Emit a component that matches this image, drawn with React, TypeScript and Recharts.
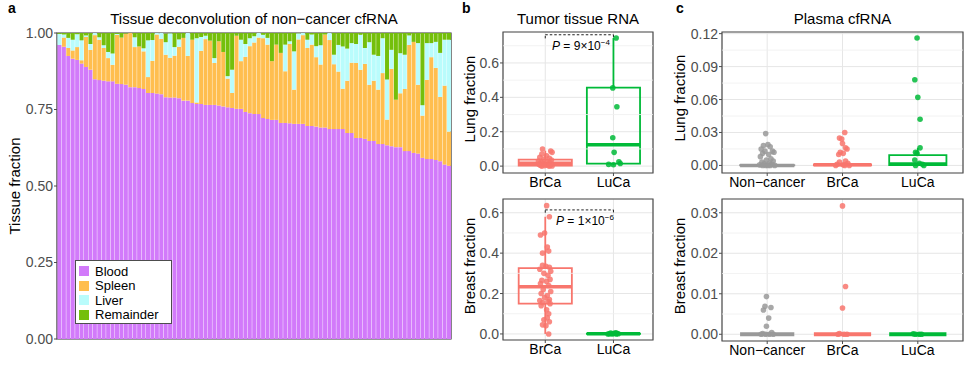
import React from "react";
import {
  BarChart,
  Bar,
  XAxis,
  YAxis,
  ReferenceArea,
  ReferenceLine,
  Legend,
  ScatterChart,
  Scatter,
  CartesianGrid,
} from "recharts";

const FONT = '"Liberation Sans", Arial, sans-serif';

// ---------------- Panel a: tissue deconvolution (89 non-cancer samples) ----------------
const bloodFrac = [
  0.961, 0.955, 0.925, 0.916, 0.912, 0.9, 0.889, 0.88, 0.849, 0.846, 0.844, 0.842, 0.842, 0.834, 0.833,
  0.831, 0.823, 0.823, 0.82, 0.817, 0.804, 0.804, 0.802, 0.8, 0.79, 0.789, 0.789, 0.787, 0.779, 0.779,
  0.771, 0.768, 0.768, 0.765, 0.765, 0.765, 0.763, 0.76, 0.757, 0.755, 0.752, 0.752, 0.742, 0.738, 0.735,
  0.735, 0.722, 0.719, 0.716, 0.716, 0.706, 0.706, 0.705, 0.703, 0.703, 0.703, 0.696, 0.696, 0.694, 0.691,
  0.691, 0.686, 0.686, 0.686, 0.686, 0.673, 0.673, 0.657, 0.657, 0.654, 0.647, 0.647, 0.637, 0.637, 0.633,
  0.63, 0.627, 0.627, 0.614, 0.614, 0.608, 0.606, 0.592, 0.588, 0.588, 0.585, 0.581, 0.57, 0.566,
];
const spleenFrac = [
  0.0, 0.03, 0.026, 0.027, 0.042, 0.011, 0.098, 0.065, 0.144, 0.132, 0.107, 0.076, 0.054, 0.16, 0.152,
  0.167, 0.177, 0.131, 0.136, 0.123, 0.052, 0.105, 0.193, 0.181, 0.139, 0.13, 0.137, 0.168, 0.205, 0.146,
  0.207, 0.005, 0.174, 0.215, 0.21, 0.137, 0.21, 0.178, 0.094, 0.049, 0.239, 0.156, 0.18, 0.219, 0.234,
  0.25, 0.261, 0.243, 0.192, 0.246, 0.229, 0.169, 0.259, 0.112, 0.276, 0.29, 0.255, 0.266, 0.227, 0.206,
  0.304, 0.291, 0.212, 0.188, 0.132, 0.171, 0.23, 0.245, 0.223, 0.245, 0.184, 0.197, 0.178, 0.232, 0.084,
  0.253, 0.155, 0.176, 0.203, 0.347, 0.363, 0.225, 0.138, 0.259, 0.333, 0.301, 0.21, 0.258, 0.112,
];
const liverFrac = [
  0.036, 0.01, 0.033, 0.035, 0.042, 0.065, 0.005, 0.019, 0.007, 0.008, 0.009, 0.02, 0.037, 0.003, 0.0,
  0.0, 0.0, 0.032, 0.0, 0.01, 0.12, 0.068, 0.005, 0.02, 0.041, 0.08, 0.028, 0.024, 0.0, 0.076,
  0.0, 0.21, 0.045, 0.011, 0.0, 0.016, 0.0, 0.0, 0.008, 0.076, 0.0, 0.07, 0.042, 0.026, 0.02,
  0.015, 0.011, 0.022, 0.0, 0.0, 0.0, 0.087, 0.009, 0.125, 0.02, 0.007, 0.027, 0.033, 0.036, 0.063,
  0.0, 0.024, 0.031, 0.087, 0.138, 0.105, 0.064, 0.062, 0.114, 0.052, 0.139, 0.085, 0.11, 0.114, 0.131,
  0.062, 0.0, 0.131, 0.112, 0.031, 0.0, 0.136, 0.034, 0.12, 0.046, 0.085, 0.144, 0.15, 0.3,
];
const remainderFrac = [
  0.003, 0.005, 0.017, 0.023, 0.004, 0.025, 0.009, 0.037, 0.0, 0.015, 0.041, 0.063, 0.068, 0.004, 0.015,
  0.002, 0.0, 0.015, 0.045, 0.05, 0.025, 0.025, 0.0, 0.0, 0.028, 0.003, 0.047, 0.022, 0.017, 0.0,
  0.023, 0.017, 0.014, 0.011, 0.026, 0.083, 0.028, 0.063, 0.143, 0.121, 0.011, 0.024, 0.037, 0.017, 0.012,
  0.0, 0.007, 0.017, 0.094, 0.039, 0.066, 0.039, 0.028, 0.061, 0.003, 0.0, 0.023, 0.007, 0.045, 0.041,
  0.007, 0.0, 0.072, 0.039, 0.045, 0.052, 0.034, 0.037, 0.007, 0.05, 0.031, 0.072, 0.076, 0.017, 0.154,
  0.057, 0.219, 0.066, 0.072, 0.009, 0.031, 0.034, 0.237, 0.034, 0.034, 0.031, 0.066, 0.023, 0.023,
];
const tissueNames = ["Blood", "Spleen", "Liver", "Remainder"];
const tissueKeys = ["blood", "spleen", "liver", "remainder"];
const tissueColors = ["#D27AFA", "#FFBE4F", "#B9FCFC", "#74BF0B"];
const aTicks = [0, 0.25, 0.5, 0.75, 1];

// ---------------- Panel b: tumor tissue RNA ----------------
const bCats = ["BrCa", "LuCa"];
const bLungBrCaVals = [0.1, 0.088, 0.08, 0.07, 0.06, 0.052, 0.045, 0.04, 0.035, 0.03, 0.026, 0.022, 0.018, 0.015, 0.012, 0.01, 0.008, 0.006, 0.004, 0.003, 0.002, 0.001, 0.0, 0.0];
const bLungBrCaJit = [-0.04, 0.08, 0.1, -0.05, 0.02, -0.08, 0.06, -0.02, 0.09, -0.1, 0.03, -0.06, 0.07, -0.03, 0.05, -0.09, 0.01, 0.08, -0.07, 0.04, -0.01, 0.1, -0.05, 0.06];
const bLungLuCaVals = [0.745, 0.455, 0.345, 0.165, 0.08, 0.025, 0.015, 0.01, 0.008];
const bLungLuCaJit = [0.04, -0.01, 0.05, -0.01, 0.01, 0.08, 0.1, -0.07, 0.0];
const bLungBox = { BrCa: [0.0, 0.003, 0.016, 0.038, 0.09], LuCa: [0.005, 0.014, 0.125, 0.457, 0.745] };

const bBreastBrCaVals = [0.635, 0.58, 0.5, 0.49, 0.43, 0.41, 0.4, 0.34, 0.335, 0.33, 0.32, 0.31, 0.3, 0.29, 0.27, 0.265, 0.26, 0.25, 0.24, 0.22, 0.21, 0.2, 0.19, 0.18, 0.17, 0.165, 0.16, 0.155, 0.15, 0.14, 0.12, 0.1, 0.08, 0.07, 0.06, 0.045, 0.04, 0.0];
const bBreastBrCaJit = [0.02, 0.06, -0.01, -0.07, 0.03, 0.05, -0.04, -0.04, 0.01, 0.06, -0.08, 0.08, -0.02, 0.04, 0.07, -0.05, 0.02, -0.07, 0.05, -0.03, 0.08, -0.06, 0.03, -0.01, 0.06, -0.08, 0.04, -0.04, 0.07, -0.06, 0.02, 0.05, 0.03, -0.02, 0.06, -0.04, 0.01, 0.05];
const bBreastLuCaVals = [0.006, 0.004, 0.003, 0.002, 0.001, 0.001, 0.0, 0.0, 0.0];
const bBreastLuCaJit = [0.03, -0.04, 0.05, 0.0, -0.06, 0.07, -0.02, 0.04, -0.08];
const bBreastBox = { BrCa: [0.0, 0.15, 0.233, 0.326, 0.58], LuCa: [0.0, 0.0, 0.001, 0.002, 0.006] };

// ---------------- Panel c: plasma cfRNA ----------------
const cCats = ["Non\u2212cancer", "BrCa", "LuCa"];
const cLungNonVals = [0.029, 0.019, 0.018, 0.017, 0.015, 0.013, 0.013, 0.012, 0.011, 0.01, 0.008, 0.006, 0.005, 0.004, 0.003, 0.002, 0.0015, 0.001, 0.0005, 0, 0, 0, 0, 0];
const cLungNonJit = [-0.02, 0.01, -0.05, 0.04, -0.08, 0.07, -0.03, 0.09, -0.06, 0.02, -0.09, 0.05, -0.01, 0.08, -0.07, 0.03, -0.04, 0.06, -0.1, 0.1, -0.02, 0.04, -0.06, 0.01];
const cLungBrCaVals = [0.03, 0.025, 0.024, 0.02, 0.016, 0.015, 0.012, 0.011, 0.01, 0.004, 0.003, 0.002, 0.001, 0.0005, 0, 0, 0];
const cLungBrCaJit = [0.03, -0.04, -0.01, 0.0, 0.04, 0.06, -0.03, 0.01, -0.05, 0.04, -0.04, 0.07, -0.07, 0.01, 0.09, -0.09, 0.03];
const cLungLuCaVals = [0.116, 0.078, 0.062, 0.042, 0.016, 0.012, 0.011, 0.005, 0.002, 0.001, 0, 0];
const cLungLuCaJit = [-0.01, -0.04, 0.0, 0.03, 0.03, -0.03, -0.01, -0.04, 0.02, 0.06, -0.03, 0.08];
const cLungBox = { Non: [0, 0, 0, 0.0003, 0.0008], BrCa: [0, 0, 0.0005, 0.001, 0.002], LuCa: [0, 0.0002, 0.0012, 0.0094, 0.016] };

const cBreastNonVals = [0.0093, 0.0069, 0.0066, 0.006, 0.004, 0.002, 0.0004, 0.0002, 0, 0, 0, 0];
const cBreastNonJit = [-0.01, -0.03, 0.05, -0.05, 0.02, -0.01, 0.06, -0.06, 0.03, -0.02, 0.08, -0.08];
const cBreastBrCaVals = [0.0317, 0.0118, 0.0065, 0.0002, 0, 0, 0];
const cBreastBrCaJit = [0.0, 0.04, 0.0, -0.04, 0.06, -0.06, 0.02];
const cBreastLuCaVals = [0, 0, 0, 0.0001];
const cBreastLuCaJit = [-0.03, 0.02, 0.05, -0.06];
const cBreastBox = { Non: [0, 0, 0, 0, 0], BrCa: [0, 0, 0, 0, 0], LuCa: [0, 0, 0, 0, 0] };

const SALMON = "#F8766D";
const GREEN = "#00BA38";
const GREY = "#999999";

const aData = bloodFrac.map((b, i) => ({
  id: i + 1,
  blood: b,
  spleen: spleenFrac[i],
  liver: liverFrac[i],
  remainder: remainderFrac[i],
}));

type Group = {
  x: number;
  color: string;
  box: number[]; // lo, q1, med, q3, hi
  hw: number;
  vals: number[];
  jit: number[];
};

type PanelProps = {
  left: number;
  top: number;
  width: number;
  height: number;
  marginTop: number;
  marginRight: number;
  yAxisWidth: number;
  xAxisHeight: number;
  xDomain: [number, number];
  yDomain: [number, number];
  yTicks: number[];
  yMinor: number[];
  digits: number;
  cats: string[];
  groups: Group[];
  bracket?: { x1: number; x2: number; y: number; d1: number; d2: number };
};

function BoxPanel(p: PanelProps) {
  const dot = (color: string) => (props: any) => (
    <circle cx={props.cx} cy={props.cy} r={2.8} fill={color} fillOpacity={0.85} />
  );
  return (
    <div style={{ position: "absolute", left: p.left, top: p.top, width: p.width, height: p.height }}>
      <ScatterChart
        width={p.width}
        height={p.height}
        margin={{ top: p.marginTop, right: p.marginRight, bottom: 0, left: 0 }}
      >
        <CartesianGrid stroke="#e6e6e6" strokeWidth={1} />
        {p.yMinor.map((m) => (
          <ReferenceLine key={"m" + m} y={m} stroke="#efefef" strokeWidth={0.8} />
        ))}
        <XAxis
          type="number"
          dataKey="x"
          domain={p.xDomain}
          allowDataOverflow
          ticks={p.cats.map((_, i) => i + 1)}
          tickFormatter={(v: number) => p.cats[v - 1]}
          interval={0}
          height={p.xAxisHeight}
          axisLine={false}
          tickSize={3}
          tickMargin={1}
          tickLine={{ stroke: "#4d4d4d" }}
          tick={{ fill: "#000", fontSize: 14 }}
        />
        <YAxis
          type="number"
          dataKey="y"
          domain={p.yDomain}
          allowDataOverflow
          ticks={p.yTicks}
          interval={0}
          tickFormatter={(v: number) => v.toFixed(p.digits)}
          width={p.yAxisWidth}
          axisLine={false}
          tickSize={3}
          tickMargin={1}
          tickLine={{ stroke: "#4d4d4d" }}
          tick={{ fill: "#4d4d4d", fontSize: 14 }}
        />
        {p.groups.map((g, gi) => {
          const [lo, q1, med, q3, hi] = g.box;
          const flat = q3 - q1 < 1e-9;
          return (
            <React.Fragment key={"g" + gi}>
              {!flat && (
                <ReferenceArea
                  x1={g.x - g.hw}
                  x2={g.x + g.hw}
                  y1={q1}
                  y2={q3}
                  fill="none"
                  stroke={g.color}
                  strokeWidth={1.8}
                  ifOverflow="visible"
                />
              )}
              <ReferenceLine
                segment={[{ x: g.x, y: q3 }, { x: g.x, y: hi }]}
                stroke={g.color}
                strokeWidth={1.8}
                ifOverflow="visible"
              />
              <ReferenceLine
                segment={[{ x: g.x, y: lo }, { x: g.x, y: q1 }]}
                stroke={g.color}
                strokeWidth={1.8}
                ifOverflow="visible"
              />
              <ReferenceLine
                segment={[{ x: g.x - g.hw, y: med }, { x: g.x + g.hw, y: med }]}
                stroke={g.color}
                strokeWidth={flat ? 4 : 3.5}
                ifOverflow="visible"
              />
            </React.Fragment>
          );
        })}
        {p.bracket && (
          <ReferenceLine
            segment={[{ x: p.bracket.x1, y: p.bracket.d1 }, { x: p.bracket.x1, y: p.bracket.y }]}
            stroke="#222"
            strokeDasharray="2.5 2"
            ifOverflow="visible"
          />
        )}
        {p.bracket && (
          <ReferenceLine
            segment={[{ x: p.bracket.x1, y: p.bracket.y }, { x: p.bracket.x2, y: p.bracket.y }]}
            stroke="#222"
            strokeDasharray="2.5 2"
            ifOverflow="visible"
          />
        )}
        {p.bracket && (
          <ReferenceLine
            segment={[{ x: p.bracket.x2, y: p.bracket.y }, { x: p.bracket.x2, y: p.bracket.d2 }]}
            stroke="#222"
            strokeDasharray="2.5 2"
            ifOverflow="visible"
          />
        )}
        {p.groups.map((g, gi) => (
          <Scatter
            key={"s" + gi}
            data={g.vals.map((v, i) => ({ x: g.x + g.jit[i], y: v }))}
            shape={dot(g.color)}
            isAnimationActive={false}
          />
        ))}
        <ReferenceArea
          x1={p.xDomain[0]}
          x2={p.xDomain[1]}
          y1={p.yDomain[0]}
          y2={p.yDomain[1]}
          fill="none"
          stroke="#4d4d4d"
          strokeWidth={1.2}
          ifOverflow="visible"
        />
      </ScatterChart>
    </div>
  );
}

const renderLegend = () => (
  <div
    style={{
      border: "1px solid #4d4d4d",
      background: "#fff",
      padding: "3px 3px",
      width: 97,
      height: 64,
      boxSizing: "border-box",
      fontFamily: FONT,
    }}
  >
    {tissueNames.map((n, i) => (
      <div key={n} style={{ display: "flex", alignItems: "center", height: 14.5, fontSize: 13, color: "#000" }}>
        <span style={{ display: "inline-block", width: 10, height: 10, background: tissueColors[i], marginRight: 6 }} />
        {n}
      </div>
    ))}
  </div>
);

const rotTitle = (text: string, cx: number, cy: number) => (
  <div
    style={{
      position: "absolute",
      left: cx,
      top: cy,
      width: 200,
      textAlign: "center",
      fontSize: 15,
      lineHeight: "15px",
      color: "#000",
      transform: "translate(-50%, -50%) rotate(-90deg)",
      whiteSpace: "nowrap",
    }}
  >
    {text}
  </div>
);

const plainText = (text: React.ReactNode, left: number, top: number, width: number, style: any = {}) => (
  <div
    style={{
      position: "absolute",
      left,
      top,
      width,
      textAlign: "center",
      fontSize: 15,
      lineHeight: "15px",
      color: "#000",
      whiteSpace: "nowrap",
      ...style,
    }}
  >
    {text}
  </div>
);

const pText = (exp: string, left: number, top: number) => (
  <div
    style={{ position: "absolute", left, top, fontSize: 12, lineHeight: "12px", color: "#000", whiteSpace: "nowrap" }}
  >
    <i>P</i> = {exp.split("|")[0]}
    <span style={{ fontSize: 8, verticalAlign: "5px", lineHeight: 0 }}>{exp.split("|")[1]}</span>
  </div>
);

export default function App() {
  return (
    <div
      style={{
        position: "absolute",
        left: 0,
        top: 0,
        width: 971,
        height: 365,
        background: "#fff",
        fontFamily: FONT,
        overflow: "hidden",
      }}
    >
      {/* Panel a */}
      <div style={{ position: "absolute", left: 0, top: 0, width: 460, height: 365 }}>
        <BarChart
          width={460}
          height={365}
          data={aData}
          margin={{ top: 33, right: 9, bottom: 26, left: 0 }}
          barCategoryGap="10%"
        >
          <XAxis dataKey="id" hide />
          <YAxis
            type="number"
            domain={[0, 1]}
            allowDataOverflow
            ticks={aTicks}
            interval={0}
            tickFormatter={(v: number) => v.toFixed(2)}
            width={57}
            axisLine={false}
            tickSize={3}
            tickMargin={1}
            tickLine={{ stroke: "#4d4d4d" }}
            tick={{ fill: "#4d4d4d", fontSize: 14 }}
          />
          {tissueKeys.map((k, i) => (
            <Bar key={k} dataKey={k} name={tissueNames[i]} stackId="t" fill={tissueColors[i]} isAnimationActive={false} />
          ))}
          <ReferenceArea y1={0} y2={1} fill="none" stroke="#333" strokeWidth={1.2} ifOverflow="visible" />
          <Legend
            layout="vertical"
            align="center"
            verticalAlign="middle"
            content={renderLegend}
            wrapperStyle={{ left: 75, top: 260, width: 97, height: 64 }}
          />
        </BarChart>
      </div>

      <BoxPanel
        left={455}
        top={0}
        width={210}
        height={190}
        marginTop={32}
        marginRight={12}
        yAxisWidth={48}
        xAxisHeight={17}
        xDomain={[0.38, 2.58]}
        yDomain={[-0.04, 0.78]}
        yTicks={[0, 0.2, 0.4, 0.6]}
        yMinor={[0.1, 0.3, 0.5, 0.7]}
        digits={1}
        cats={bCats}
        groups={[
          { x: 1, color: SALMON, box: bLungBox.BrCa, hw: 0.39, vals: bLungBrCaVals, jit: bLungBrCaJit },
          { x: 2, color: GREEN, box: bLungBox.LuCa, hw: 0.39, vals: bLungLuCaVals, jit: bLungLuCaJit },
        ]}
        bracket={{ x1: 1, x2: 2, y: 0.764, d1: 0.743, d2: 0.745 }}
      />
      <BoxPanel
        left={455}
        top={190}
        width={210}
        height={175}
        marginTop={9}
        marginRight={12}
        yAxisWidth={48}
        xAxisHeight={25}
        xDomain={[0.38, 2.58]}
        yDomain={[-0.03, 0.668]}
        yTicks={[0, 0.2, 0.4, 0.6]}
        yMinor={[0.1, 0.3, 0.5]}
        digits={1}
        cats={bCats}
        groups={[
          { x: 1, color: SALMON, box: bBreastBox.BrCa, hw: 0.39, vals: bBreastBrCaVals, jit: bBreastBrCaJit },
          { x: 2, color: GREEN, box: bBreastBox.LuCa, hw: 0.39, vals: bBreastLuCaVals, jit: bBreastLuCaJit },
        ]}
        bracket={{ x1: 1, x2: 2, y: 0.614, d1: 0.6, d2: 0.6 }}
      />
      <BoxPanel
        left={660}
        top={0}
        width={311}
        height={190}
        marginTop={32}
        marginRight={8}
        yAxisWidth={62}
        xAxisHeight={17}
        xDomain={[0.4, 3.6]}
        yDomain={[-0.0069, 0.1215]}
        yTicks={[0, 0.03, 0.06, 0.09, 0.12]}
        yMinor={[0.015, 0.045, 0.075, 0.105]}
        digits={2}
        cats={cCats}
        groups={[
          { x: 1, color: GREY, box: cLungBox.Non, hw: 0.36, vals: cLungNonVals, jit: cLungNonJit },
          { x: 2, color: SALMON, box: cLungBox.BrCa, hw: 0.38, vals: cLungBrCaVals, jit: cLungBrCaJit },
          { x: 3, color: GREEN, box: cLungBox.LuCa, hw: 0.38, vals: cLungLuCaVals, jit: cLungLuCaJit },
        ]}
      />
      <BoxPanel
        left={660}
        top={190}
        width={311}
        height={175}
        marginTop={9}
        marginRight={8}
        yAxisWidth={62}
        xAxisHeight={24}
        xDomain={[0.4, 3.6]}
        yDomain={[-0.00166, 0.0334]}
        yTicks={[0, 0.01, 0.02, 0.03]}
        yMinor={[0.005, 0.015, 0.025]}
        digits={2}
        cats={cCats}
        groups={[
          { x: 1, color: GREY, box: cBreastBox.Non, hw: 0.36, vals: cBreastNonVals, jit: cBreastNonJit },
          { x: 2, color: SALMON, box: cBreastBox.BrCa, hw: 0.38, vals: cBreastBrCaVals, jit: cBreastBrCaJit },
          { x: 3, color: GREEN, box: cBreastBox.LuCa, hw: 0.38, vals: cBreastLuCaVals, jit: cBreastLuCaJit },
        ]}
      />

      {/* Titles and panel letters */}
      {plainText("a", 8, 1, 12, { fontWeight: "bold", fontSize: 14, lineHeight: "14px", textAlign: "left" })}
      {plainText("b", 462, 1, 12, { fontWeight: "bold", fontSize: 14, lineHeight: "14px", textAlign: "left" })}
      {plainText("c", 676, 1, 12, { fontWeight: "bold", fontSize: 14, lineHeight: "14px", textAlign: "left" })}
      {plainText("Tissue deconvolution of non\u2212cancer cfRNA", 57, 10.5, 394)}
      {plainText("Tumor tissue RNA", 503, 10.5, 150)}
      {plainText("Plasma cfRNA", 722, 10.5, 241)}

      {rotTitle("Tissue fraction", 14, 186)}
      {rotTitle("Lung fraction", 469, 99)}
      {rotTitle("Breast fraction", 469, 266)}
      {rotTitle("Lung fraction", 679, 98)}
      {rotTitle("Breast fraction", 679, 266)}

      {pText("9\u00d710|\u22124", 552, 40)}
      {pText("1\u00d710|\u22126", 556, 215)}
    </div>
  );
}
